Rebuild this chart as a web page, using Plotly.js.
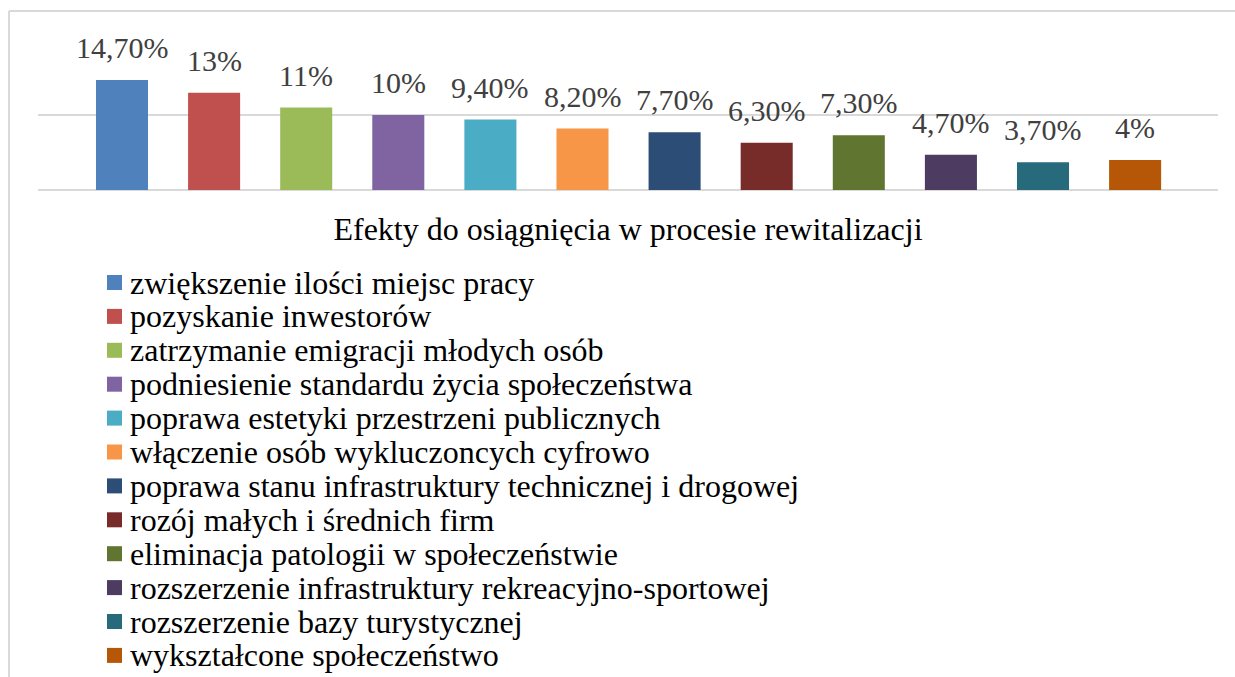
<!DOCTYPE html>
<html>
<head>
<meta charset="utf-8">
<script src="https://cdn.plot.ly/plotly-3.0.1.min.js"></script>
<style>
  html, body { margin: 0; padding: 0; background: #ffffff; }
  #chart { width: 1235px; height: 677px; }
</style>
</head>
<body>
<div id="chart"></div>
<script>
const categories = [
  "zwiększenie ilości miejsc pracy",
  "pozyskanie inwestorów",
  "zatrzymanie emigracji młodych osób",
  "podniesienie standardu życia społeczeństwa",
  "poprawa estetyki przestrzeni publicznych",
  "włączenie osób wykluczoncych cyfrowo",
  "poprawa stanu infrastruktury technicznej i drogowej",
  "rozój małych i średnich firm",
  "eliminacja patologii w społeczeństwie",
  "rozszerzenie infrastruktury rekreacyjno-sportowej",
  "rozszerzenie bazy turystycznej",
  "wykształcone społeczeństwo"
];
const values = [14.7, 13, 11, 10, 9.4, 8.2, 7.7, 6.3, 7.3, 4.7, 3.7, 4];
const valueLabels = ["14,70%", "13%", "11%", "10%", "9,40%", "8,20%", "7,70%", "6,30%", "7,30%", "4,70%", "3,70%", "4%"];
const axisTitle = "Efekty do osiągnięcia w procesie rewitalizacji";
const colors = ["#4f81bd", "#c0504d", "#9bbb59", "#8064a2", "#4bacc6", "#f79646",
                "#2c4d75", "#772c2a", "#5f7530", "#4d3b62", "#276a7c", "#b65708"];

const FONT = "Liberation Serif";

// plot geometry (pixels) used to place the legend-like list in paper coordinates
const W = 1235, H = 677;
const M = { l: 38, r: 17, t: 40, b: 487 };
const PW = W - M.l - M.r, PH = H - M.t - M.b;
const px2x = px => (px - M.l) / PW;
const py2y = py => (H - M.b - py) / PH;
const LEG_TOP = 282.5, LEG_STEP = 33.9, SW = 15, SW_X = 107, TXT_X = 128;

const traces = categories.map((name, i) => ({
  type: "bar",
  x: [i],
  y: [values[i]],
  width: 0.565,
  name: name,
  marker: { color: colors[i] },
  hoverinfo: "skip",
  showlegend: false
}));

const labelAnnotations = categories.map((name, i) => ({
  x: i, y: values[i], xref: "x", yref: "y",
  text: valueLabels[i],
  showarrow: false,
  yanchor: "bottom",
  yshift: 14,
  font: { family: FONT, size: 30, color: "#404040" }
}));

const legendAnnotations = categories.map((name, i) => ({
  xref: "paper", yref: "paper",
  x: px2x(TXT_X), y: py2y(LEG_TOP + i * LEG_STEP),
  xanchor: "left", yanchor: "middle",
  text: name,
  showarrow: false,
  font: { family: FONT, size: 32, color: "#000000" }
}));

const legendSwatches = categories.map((name, i) => ({
  type: "rect", xref: "paper", yref: "paper",
  x0: px2x(SW_X), x1: px2x(SW_X + SW),
  y0: py2y(LEG_TOP + i * LEG_STEP - SW / 2), y1: py2y(LEG_TOP + i * LEG_STEP + SW / 2),
  fillcolor: colors[i], line: { width: 0 }
}));

const layout = {
  width: W, height: H,
  margin: M,
  paper_bgcolor: "#ffffff",
  plot_bgcolor: "#ffffff",
  barmode: "overlay",
  showlegend: false,
  font: { family: FONT, color: "#000000" },
  xaxis: {
    range: [-0.912, 11.9],
    showticklabels: false,
    showgrid: false,
    zeroline: false,
    showline: false,
    ticks: "",
    fixedrange: true,
    title: { text: axisTitle, font: { family: FONT, size: 32, color: "#000000" }, standoff: 27 },
    automargin: false
  },
  yaxis: {
    range: [0, 20.03],
    dtick: 10,
    showticklabels: false,
    showgrid: true,
    gridcolor: "#d9d9d9",
    gridwidth: 2,
    zeroline: true,
    zerolinecolor: "#d9d9d9",
    zerolinewidth: 2,
    ticks: "",
    fixedrange: true,
    automargin: false
  },
  annotations: labelAnnotations.concat(legendAnnotations),
  shapes: [
    { type: "line", xref: "paper", yref: "paper", x0: px2x(9), x1: px2x(1240),
      y0: py2y(11), y1: py2y(11), line: { color: "#d9d9d9", width: 2 } },
    { type: "line", xref: "paper", yref: "paper", x0: px2x(9), x1: px2x(9),
      y0: py2y(11), y1: py2y(690), line: { color: "#d9d9d9", width: 2 } }
  ].concat(legendSwatches)
};

Plotly.newPlot("chart", traces, layout, { displayModeBar: false, staticPlot: true });
</script>
</body>
</html>
